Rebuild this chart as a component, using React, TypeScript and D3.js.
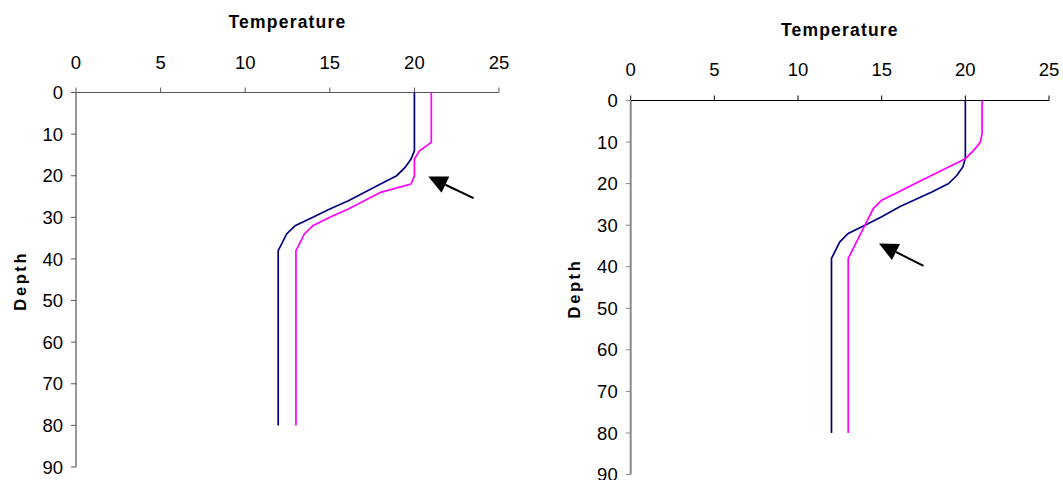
import React from "react";
import * as d3 from "d3";

// Temperature profiles: depth (m) and temperature values at each vertex
const leftBlueDepth = [0, 14, 16, 18, 20, 22, 26, 28, 30, 32, 34, 38, 80];
const leftBlueTemp = [20, 20, 19.8, 19.45, 18.95, 18, 16.1, 15, 14, 12.95, 12.45, 11.95, 11.95];
const leftPinkDepth = [0, 12, 14, 16, 20, 22, 24, 28, 30, 32, 34, 38, 80];
const leftPinkTemp = [21, 21, 20.3, 20, 20, 19.8, 18, 16.1, 15, 14, 13.5, 13, 13];

const rightBlueDepth = [0, 14, 16, 18, 20, 22, 25.5, 28, 30, 32, 34, 38, 80];
const rightBlueTemp = [20, 20, 19.85, 19.5, 19, 18, 16.1, 15, 14, 13, 12.5, 12, 12];
const rightPinkDepth = [0, 8, 10, 12, 14, 16, 18, 20, 22, 24, 26, 30, 38, 80];
const rightPinkTemp = [21, 21, 20.9, 20.5, 20, 19, 18, 17, 16, 15, 14.5, 14, 13, 13];

const tempTicks = [0, 5, 10, 15, 20, 25];
const depthTicks = [0, 10, 20, 30, 40, 50, 60, 70, 80, 90];

// Arrow annotations: [tipTemp, tipDepth, tailTemp, tailDepth]
const leftArrow = [20.82, 20.2, 23.5, 25.4];
const rightArrow = [14.84, 34.4, 17.5, 39.8];

const FONT = "'Liberation Sans', Arial, sans-serif";

type PanelProps = {
  x0: number; x1: number; y0: number; y1: number;
  titleY: number; tickLabelY: number; depthX: number;
  xAxisColor: string; yAxisColor: string; yAxisWidth: number;
  series: { depth: number[]; temp: number[]; color: string }[];
  arrow: number[];
};

function Panel(p: PanelProps) {
  const x = d3.scaleLinear().domain([0, 25]).range([p.x0, p.x1]);
  const y = d3.scaleLinear().domain([0, 90]).range([p.y0, p.y1]);
  const line = d3
    .line<[number, number]>()
    .x((d) => x(d[0]))
    .y((d) => y(d[1]));

  const [tt, td, lt, ld] = p.arrow;
  const tip: [number, number] = [x(tt), y(td)];
  const tail: [number, number] = [x(lt), y(ld)];
  const dx = tip[0] - tail[0];
  const dy = tip[1] - tail[1];
  const len = Math.hypot(dx, dy);
  const ux = dx / len;
  const uy = dy / len;
  const headLen = 19;
  const halfW = 9;
  const bx = tip[0] - ux * headLen;
  const by = tip[1] - uy * headLen;
  const head = [
    [tip[0], tip[1]],
    [bx - uy * halfW, by + ux * halfW],
    [bx + uy * halfW, by - ux * halfW],
  ]
    .map((q) => q.join(","))
    .join(" ");

  return (
    <g>
      <text
        x={(p.x0 + p.x1) / 2}
        y={p.titleY}
        textAnchor="middle"
        fontFamily={FONT}
        fontWeight="bold"
        fontSize={17.5}
        letterSpacing={1.2}
        fill="#000"
      >
        Temperature
      </text>
      {tempTicks.map((t) => (
        <g key={"xt" + t}>
          <line x1={x(t)} x2={x(t)} y1={p.y0 - 5} y2={p.y0} stroke={p.xAxisColor} strokeWidth={1} />
          <text x={x(t)} y={p.tickLabelY} textAnchor="middle" fontFamily={FONT} fontSize={18.5} fill="#000">
            {t}
          </text>
        </g>
      ))}
      <line x1={p.x0} x2={p.x1} y1={p.y0} y2={p.y0} stroke={p.xAxisColor} strokeWidth={1.2} />
      <line x1={p.x0} x2={p.x0} y1={p.y0} y2={p.y1} stroke={p.yAxisColor} strokeWidth={p.yAxisWidth} />
      {depthTicks.map((d) => (
        <g key={"yt" + d}>
          <line x1={p.x0 - 5} x2={p.x0} y1={y(d)} y2={y(d)} stroke={p.yAxisColor} strokeWidth={1} />
          <text
            x={p.x0 - 13}
            y={y(d)}
            dy="0.36em"
            textAnchor="end"
            fontFamily={FONT}
            fontSize={18.5}
            fill="#000"
          >
            {d}
          </text>
        </g>
      ))}
      <text
        transform={`translate(${p.depthX},${(p.y0 + p.y1) / 2 + 1}) rotate(-90)`}
        textAnchor="middle"
        dy="0.35em"
        fontFamily={FONT}
        fontWeight="bold"
        fontSize={16.5}
        letterSpacing={2.6}
        fill="#000"
      >
        Depth
      </text>
      {p.series.map((s, i) => (
        <path
          key={"s" + i}
          d={line(s.depth.map((d, j) => [s.temp[j], d] as [number, number])) || ""}
          fill="none"
          stroke={s.color}
          strokeWidth={1.7}
        />
      ))}
      <line x1={tail[0]} y1={tail[1]} x2={bx} y2={by} stroke="#000" strokeWidth={2} />
      <polygon points={head} fill="#000" />
    </g>
  );
}

export default function App() {
  return (
    <svg width={1063} height={480} style={{ display: "block", position: "absolute", left: 0, top: 0, background: "#fff" }}>
      <Panel
        x0={76}
        x1={499}
        y0={92.5}
        y1={467}
        titleY={27.5}
        tickLabelY={68.5}
        depthX={20}
        xAxisColor="#555"
        yAxisColor="#555"
        yAxisWidth={1.2}
        series={[
          { depth: leftBlueDepth, temp: leftBlueTemp, color: "#000080" },
          { depth: leftPinkDepth, temp: leftPinkTemp, color: "#ff00ff" },
        ]}
        arrow={leftArrow}
      />
      <Panel
        x0={630.7}
        x1={1049}
        y0={100.5}
        y1={474.5}
        titleY={35.5}
        tickLabelY={76}
        depthX={574}
        xAxisColor="#000"
        yAxisColor="#888"
        yAxisWidth={2}
        series={[
          { depth: rightBlueDepth, temp: rightBlueTemp, color: "#000080" },
          { depth: rightPinkDepth, temp: rightPinkTemp, color: "#ff00ff" },
        ]}
        arrow={rightArrow}
      />
    </svg>
  );
}
